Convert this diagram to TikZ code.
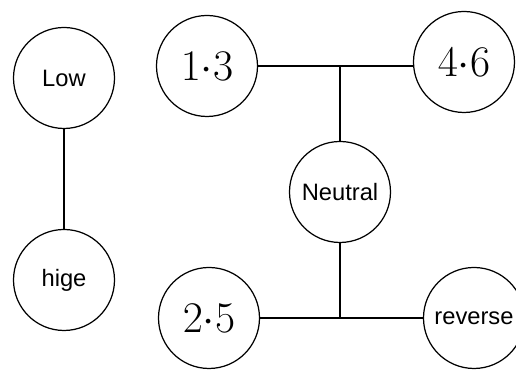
\documentclass[tikz,border=0pt]{standalone}
\usepackage{fontspec}
\setsansfont{Liberation Sans}
\usepackage{amsmath}
\usetikzlibrary{positioning}

\tikzset{
	gear/.style={draw, circle, line width=0.7pt, minimum size=2.02cm, inner sep=0pt},
	word/.style={gear, font=\sffamily\fontsize{13.5}{16}\selectfont},
	num/.style={gear, font=\fontsize{26}{30}\selectfont},
	link/.style={line width=0.7pt}
}

\begin{document}
\begin{tikzpicture}

	\useasboundingbox (0,0) rectangle (10.32,7.4);

	\node[word] (low) at (1.28,5.84) {Low};
	\node[word] (hige) at (1.28,1.80) {hige};
	
	\node[num] (g13) at (4.14,6.08) {$1{\cdot}3$};
	\node[num] (g46) at (9.28,6.16) {$4{\cdot}6$};
	\node[word] (neutral) at (6.80,3.56) {Neutral};
	\node[num] (g25) at (4.18,1.04) {$2{\cdot}5$};
	\node[word] (rev) at (9.48,1.04) {reverse};
	
	\draw[link] (low) -- (hige);
	
	\draw[link] (g13.east) -- (g13.east -| g46.west);
	\draw[link] (neutral.north) -- (neutral.north |- g13.east);
	
	\draw[link] (g25) -- (rev);
	\draw[link] (neutral.south) -- (neutral.south |- g25.east);

\end{tikzpicture}
\end{document}
